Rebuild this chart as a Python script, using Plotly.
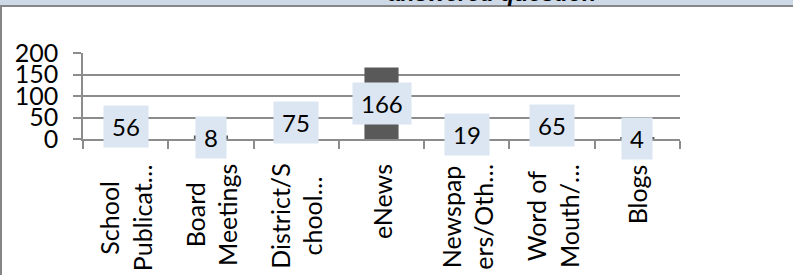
import plotly.graph_objects as go

categories = ["School<br>Publicat…", "Board<br>Meetings", "District/S<br>chool…", "eNews",
              "Newspap<br>ers/Oth…", "Word of<br>Mouth/…", "Blogs"]
values = [56, 8, 75, 166, 19, 65, 4]
y_ticks = [0, 50, 100, 150, 200]
banner_text = "answered question"

W, H = 793, 275
L, R, T, B = 83, 113, 53, 136
PW = W - L - R
PH = H - T - B

def px(x):
    return (x - L) / PW

def py(y):
    return (H - B - y) / PH

FONT = "Lato, Liberation Sans, Arial, sans-serif"
GRID = "#8c8c8c"

fig = go.Figure()
fig.add_trace(go.Bar(x=categories, y=values, marker=dict(color="#595959", line=dict(width=0)),
                     hoverinfo="skip"))

annotations = []
for c, v in zip(categories, values):
    annotations.append(dict(x=c, y=v / 2, xref="x", yref="y", text=str(v), showarrow=False,
                            bgcolor="#dce6f2", borderpad=8, height=25,
                            font=dict(family=FONT, size=24, color="#000000")))
    annotations.append(dict(x=c, y=0, xref="x", yref="paper", text=c, showarrow=False,
                            textangle=-90, yanchor="top", xanchor="center", align="center",
                            yshift=-23,
                            font=dict(family=FONT, size=25, color="#000000")))

annotations.append(dict(x=px(387), y=py(7), xref="paper", yref="paper",
                        text="<b><i>" + banner_text + "</i></b>", showarrow=False,
                        xanchor="left", yanchor="bottom", borderpad=0,
                        font=dict(family="Liberation Sans, Arial, sans-serif", size=23, color="#000000")))

shapes = [
    dict(type="rect", xref="paper", yref="paper", x0=px(0), x1=px(W), y0=py(5), y1=py(-2),
         fillcolor="#cdd9e6", line=dict(width=0), layer="below"),
    dict(type="line", xref="paper", yref="paper", x0=px(0), x1=px(W), y0=py(6), y1=py(6),
         line=dict(color="#868686", width=2)),
    dict(type="line", xref="paper", yref="paper", x0=px(1), x1=px(1), y0=py(6), y1=py(H + 2),
         line=dict(color="#868686", width=2)),
]

fig.update_layout(
    width=W, height=H,
    margin=dict(l=L, r=R, t=T, b=B, pad=0),
    paper_bgcolor="white", plot_bgcolor="white",
    showlegend=False, bargap=0.6,
    font=dict(family=FONT, size=24, color="#000000"),
    annotations=annotations, shapes=shapes,
    xaxis=dict(showticklabels=False, showgrid=False, showline=True, linecolor=GRID, linewidth=1.5,
               ticks="outside", tickson="boundaries", ticklen=8, tickcolor=GRID, tickwidth=1.5,
               fixedrange=True),
    yaxis=dict(range=[0, 200], tickvals=y_ticks, showgrid=True, gridcolor=GRID, gridwidth=1.5,
               showline=True, linecolor=GRID, linewidth=1.5, ticks="outside", ticklen=8,
               tickcolor=GRID, tickwidth=1.5, zeroline=False, ticklabelstandoff=10,
               tickfont=dict(family=FONT, size=25, color="#000000"), fixedrange=True),
)

fig.write_html("out.html", config={"displayModeBar": False},
               post_script="document.body.style.margin='0';document.body.style.padding='0';")
